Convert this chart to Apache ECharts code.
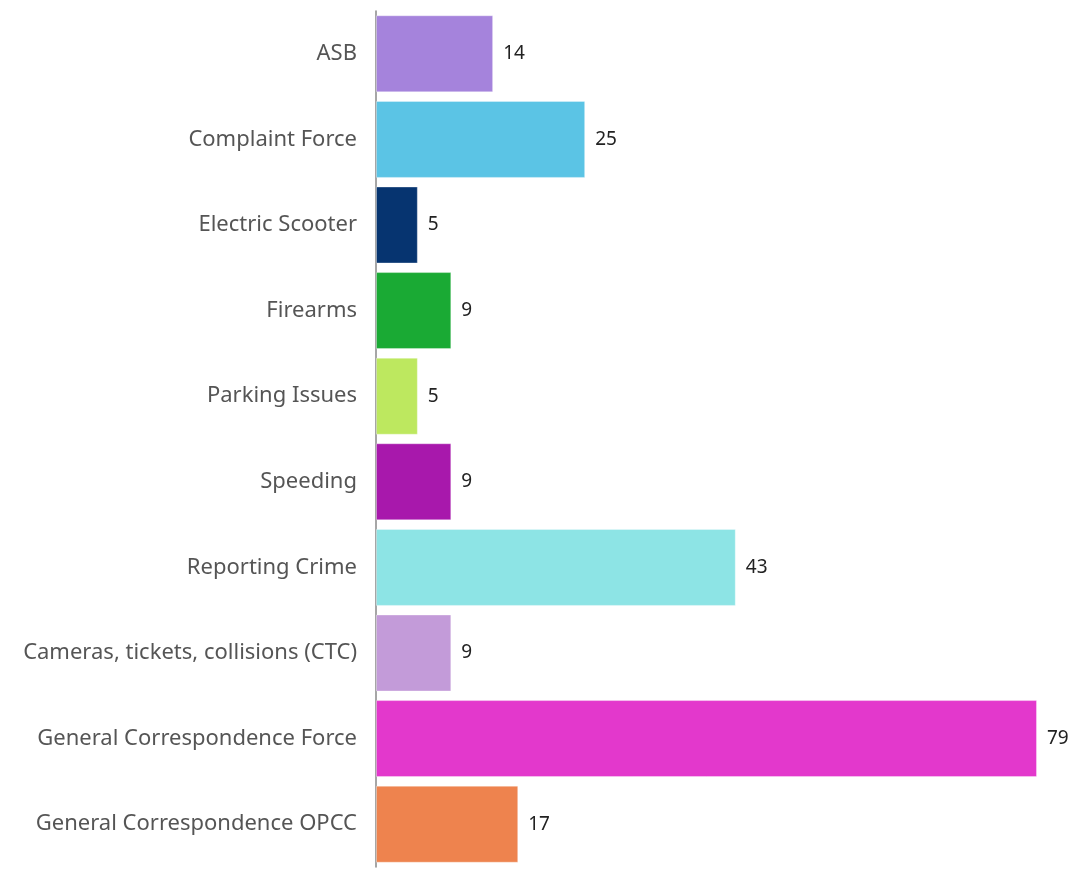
<!DOCTYPE html>
<html>
<head>
<meta charset="utf-8">
<script src="https://cdn.jsdelivr.net/npm/echarts@6/dist/echarts.min.js"></script>
<style>
  html, body { margin: 0; padding: 0; background: #fff; }
  #chart { width: 1071px; height: 876px; }
</style>
</head>
<body>
<div id="chart"></div>
<script>
// categories, top to bottom
var categories = [
    'ASB',
    'Complaint Force',
    'Electric Scooter',
    'Firearms',
    'Parking Issues',
    'Speeding',
    'Reporting Crime',
    'Cameras, tickets, collisions (CTC)',
    'General Correspondence Force',
    'General Correspondence OPCC'
];
var counts = [14, 25, 5, 9, 5, 9, 43, 9, 79, 17];
var barColors = [
    '#A583DC', '#5BC4E5', '#063470', '#1AAA34', '#BDE85F',
    '#A818AC', '#8DE4E5', '#C39BD9', '#E338CC', '#EE834E'
];

var myChart = echarts.init(document.getElementById('chart'));
var option = {
    backgroundColor: '#fff',
    animation: false,
    grid: {
        left: 376,
        right: 34,
        top: 11,
        bottom: 9
    },
    xAxis: {
        type: 'value',
        min: 0,
        max: 79,
        show: false
    },
    yAxis: {
        type: 'category',
        inverse: true,
        data: categories,
        axisLine: { show: true, lineStyle: { color: '#888', width: 1.5 } },
        axisTick: { show: false },
        axisLabel: {
            margin: 19,
            color: '#555',
            fontFamily: 'Noto Sans',
            fontSize: 22
        }
    },
    series: [{
        type: 'bar',
        barCategoryGap: '10%',
        data: counts.map(function (v, i) {
            return {
                value: v,
                itemStyle: {
                    color: barColors[i],
                    borderColor: 'rgba(255,255,255,0.35)',
                    borderWidth: 1
                }
            };
        }),
        label: {
            show: true,
            position: 'right',
            distance: 10,
            color: '#222',
            fontFamily: 'Noto Sans',
            fontSize: 19
        }
    }]
};
myChart.setOption(option, true);
</script>
</body>
</html>
